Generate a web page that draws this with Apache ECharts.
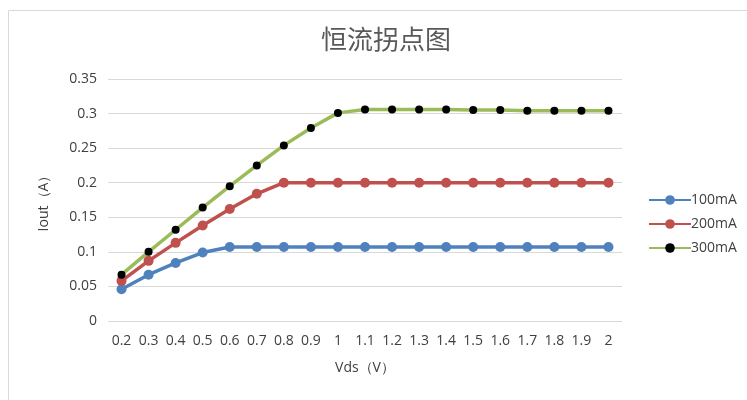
<!DOCTYPE html>
<html><head><meta charset="utf-8">
<script src="https://cdn.jsdelivr.net/npm/echarts@6/dist/echarts.min.js"></script>
<style>html,body{margin:0;padding:0;background:#fff}#c{width:747px;height:400px}</style>
</head><body><div id="c"></div>
<script>
const categories = ['0.2','0.3','0.4','0.5','0.6','0.7','0.8','0.9','1','1.1','1.2','1.3','1.4','1.5','1.6','1.7','1.8','1.9','2'];
const s100 = [0.046,0.067,0.084,0.099,0.107,0.107,0.107,0.107,0.107,0.107,0.107,0.107,0.107,0.107,0.107,0.107,0.107,0.107,0.107];
const s200 = [0.058,0.087,0.113,0.138,0.162,0.184,0.200,0.200,0.200,0.200,0.200,0.200,0.200,0.200,0.200,0.200,0.200,0.200,0.200];
const s300 = [0.067,0.100,0.132,0.164,0.195,0.225,0.254,0.279,0.301,0.306,0.306,0.306,0.306,0.305,0.305,0.304,0.304,0.304,0.304];
const yTicks = [0,0.05,0.1,0.15,0.2,0.25,0.3,0.35];

const font = 'Open Sans, Noto Sans, sans-serif';
const txt = '#404040';
const chart = echarts.init(document.getElementById('c'));
function ser(name, data, color, markColor, size) {
  return {
    name, type: 'line', data, symbol: 'circle', symbolSize: size,
    lineStyle: {color, width: 3.5},
    itemStyle: {color: markColor, borderWidth: 0},
    emphasis: {disabled: true}
  };
}
chart.setOption({
  animation: false,
  title: {text: '恒流拐点图', left: 381, top: 21, textAlign: 'center',
    textStyle: {fontFamily: 'Noto Sans CJK SC', fontSize: 26, fontWeight: 'normal', color: '#595959'}},
  graphic: [{type: 'rect', shape: {x: 8.5, y: 10.5, width: 760, height: 400},
    style: {fill: 'none', stroke: '#d9d9d9', lineWidth: 1}, silent: true}],
  grid: {left: 108, right: 125, top: 79, bottom: 79},
  legend: {orient: 'vertical', left: 643, top: 188, itemGap: 10, itemWidth: 42, itemHeight: 12,
    textStyle: {fontFamily: font, fontSize: 14, color: txt, padding: [0,0,0,-5]},
    data: ['100mA','200mA','300mA']},
  xAxis: {type: 'category', data: categories, boundaryGap: true,
    name: 'Vds（V）', nameLocation: 'middle', nameGap: 40,
    nameTextStyle: {fontFamily: font, fontSize: 14, color: txt},
    axisLine: {show: false}, axisTick: {show: false},
    axisLabel: {interval: 0, fontFamily: font, fontSize: 14, color: txt, margin: 13}},
  yAxis: {type: 'value', min: 0, max: 0.35, interval: 0.05,
    name: 'Iout（A）', nameLocation: 'middle', nameGap: 57, nameRotate: 90,
    nameTextStyle: {fontFamily: font, fontSize: 14, color: txt},
    axisLine: {show: false}, axisTick: {show: false},
    axisLabel: {fontFamily: font, fontSize: 14, color: txt, margin: 11,
      formatter: v => { const t = yTicks.find(x => Math.abs(x - v) < 1e-9); return t === undefined ? '' : String(t); }},
    splitLine: {lineStyle: {color: '#d9d9d9', width: 1}}},
  series: [
    ser('100mA', s100, '#4F81BD', '#4F81BD', 10),
    ser('200mA', s200, '#C0504D', '#C0504D', 10),
    ser('300mA', s300, '#9BBB59', '#000000', 8)
  ]
});
</script></body></html>
